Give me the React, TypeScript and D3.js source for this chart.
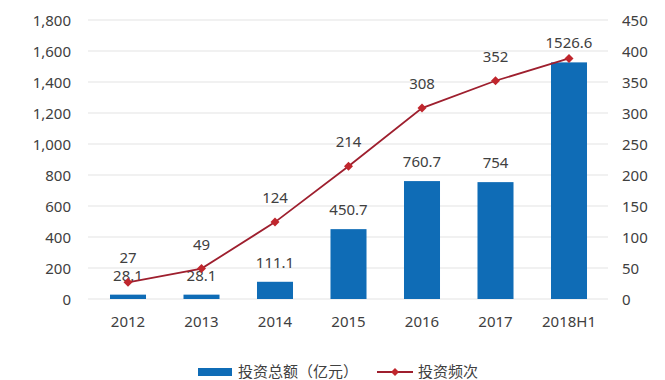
import React from "react";
import * as d3 from "d3";

const categories = ["2012", "2013", "2014", "2015", "2016", "2017", "2018H1"];
const amounts = [28.1, 28.1, 111.1, 450.7, 760.7, 754, 1526.6];
const counts = [27, 49, 124, 214, 308, 352, 388];
const countLabels = ["27", "49", "124", "214", "308", "352", ""];
const leftTicks = [0, 200, 400, 600, 800, 1000, 1200, 1400, 1600, 1800];
const rightTicks = [0, 50, 100, 150, 200, 250, 300, 350, 400, 450];
const barName = "投资总额（亿元）";
const lineName = "投资频次";

const W = 665, H = 380;
const FONT = "'Noto Sans', 'Noto Sans CJK SC', sans-serif";
const TXT = "#404040";

export default function App() {
  const x = d3.scaleBand<string>().domain(categories).range([91.25, 605.75]).paddingInner(0.51).paddingOuter(0.255);
  const yL = d3.scaleLinear().domain([0, 1800]).range([299, 20]);
  const yR = d3.scaleLinear().domain([0, 450]).range([299, 20]);
  const cx = (c: string) => (x(c) as number) + x.bandwidth() / 2;
  const line = d3.line<number>().x((_, i) => cx(categories[i])).y((d) => yR(d));
  const fmt = d3.format(",");
  const diamond = (px: number, py: number, r = 4.5) =>
    `M${px},${py - r}L${px + r},${py}L${px},${py + r}L${px - r},${py}Z`;

  return (
    <svg width={W} height={H} style={{ position: "absolute", left: 0, top: 0, background: "#fff" }} fontFamily={FONT}>
      {leftTicks.map((t) => (
        <line key={"g" + t} x1={88} x2={608} y1={yL(t)} y2={yL(t)} stroke="#e3e3e3" strokeWidth={1} />
      ))}
      {leftTicks.map((t) => (
        <text key={"l" + t} x={71} y={yL(t) + 5.5} textAnchor="end" fontSize={15} fill={TXT}>{fmt(t)}</text>
      ))}
      {rightTicks.map((t) => (
        <text key={"r" + t} x={622} y={yR(t) + 5.5} textAnchor="start" fontSize={15} fill={TXT}>{t}</text>
      ))}
      {categories.map((c, i) => (
        <rect key={"b" + c} x={x(c)} y={yL(amounts[i])} width={x.bandwidth()} height={yL(0) - yL(amounts[i])} fill="#0f6cb6" />
      ))}
      {categories.map((c, i) => (
        <text key={"bl" + c} x={cx(c)} y={yL(amounts[i]) - 14} textAnchor="middle" fontSize={15} fill={TXT}>{amounts[i]}</text>
      ))}
      <path d={line(counts) as string} fill="none" stroke="#9e1f2e" strokeWidth={1.8} />
      {categories.map((c, i) => (
        <path key={"m" + c} d={diamond(cx(c), yR(counts[i]))} fill="#c0262d" />
      ))}
      {categories.map((c, i) => (
        <text key={"ll" + c} x={cx(c)} y={yR(counts[i]) - 19} textAnchor="middle" fontSize={15} fill={TXT}>{countLabels[i]}</text>
      ))}
      {categories.map((c) => (
        <text key={"x" + c} x={cx(c)} y={326.5} textAnchor="middle" fontSize={15} fill={TXT}>{c}</text>
      ))}
      <rect x={198} y={368} width={34} height={8} fill="#0f6cb6" />
      <text x={238} y={377} fontSize={15} fill={TXT}>{barName}</text>
      <line x1={377} x2={413} y1={372} y2={372} stroke="#9e1f2e" strokeWidth={1.8} />
      <path d={diamond(395, 372, 4)} fill="#c0262d" />
      <text x={418} y={377} fontSize={15} fill={TXT}>{lineName}</text>
    </svg>
  );
}
